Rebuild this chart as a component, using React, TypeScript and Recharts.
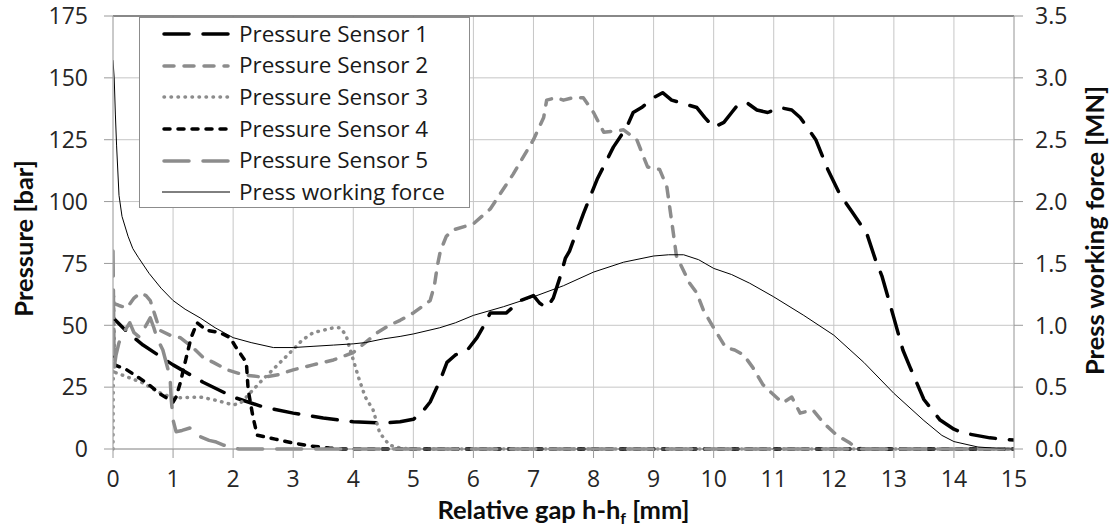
import React from 'react';
import { LineChart, Line, XAxis, YAxis, CartesianGrid, Legend, ReferenceLine } from 'recharts';

const FONT = '"Open Sans", "Liberation Sans", sans-serif';
const TITLE_FONT = 'Lato, "Liberation Sans", sans-serif';

const gapTicks = [0, 1, 2, 3, 4, 5, 6, 7, 8, 9, 10, 11, 12, 13, 14, 15];
const pressureTicks = [0, 25, 50, 75, 100, 125, 150, 175];
const forceTicks = [0, 0.5, 1, 1.5, 2, 2.5, 3, 3.5];

// [relative gap mm, pressure bar]
const sensor1: [number, number][] = [
    [0, 56], [0, 53], [0.25, 47], [0.5, 42], [0.75, 38], [1.0, 34], [1.5, 27], [2.0, 21], [2.5, 17],
    [3.0, 14.5], [3.5, 12.5], [4.0, 11], [4.5, 10.5], [4.78, 11], [5.0, 12], [5.15, 15], [5.28, 19],
    [5.45, 28], [5.56, 35], [5.7, 38], [5.9, 40], [6.06, 45], [6.2, 51], [6.28, 55], [6.55, 55],
    [6.78, 60], [7.0, 62], [7.1, 59], [7.22, 57], [7.33, 61], [7.45, 70], [7.53, 77], [7.6, 80],
    [7.83, 95], [8.06, 109], [8.33, 122], [8.55, 130], [8.66, 136], [8.8, 138], [9.0, 142],
    [9.15, 144], [9.3, 141], [9.44, 140], [9.72, 138], [9.85, 134], [10.0, 130], [10.17, 132],
    [10.3, 136], [10.4, 139], [10.55, 140], [10.72, 137], [10.9, 136], [11.1, 138], [11.3, 137],
    [11.44, 134], [11.7, 125], [11.9, 113], [12.1, 103], [12.3, 96], [12.55, 87], [12.7, 76],
    [12.8, 70], [13.0, 53], [13.15, 40], [13.27, 33], [13.5, 20], [13.77, 11.7], [14.0, 8],
    [14.15, 6.5], [14.6, 4.5], [15, 3.6],
];

const sensor2: [number, number][] = [
    [0, 59], [0.1, 58], [0.23, 57], [0.35, 61], [0.45, 63], [0.55, 62], [0.62, 60], [0.7, 54],
    [0.78, 48], [0.95, 46], [1.12, 45], [1.33, 41], [1.5, 37], [1.67, 35], [1.9, 32], [2.17, 30],
    [2.5, 29], [2.75, 30], [3.0, 32], [3.33, 34], [3.67, 36], [4.0, 39], [4.2, 43], [4.4, 47],
    [4.6, 50], [4.78, 52], [5.0, 55], [5.28, 60], [5.35, 66], [5.4, 74], [5.45, 80], [5.55, 86],
    [5.66, 88.5], [6.0, 91], [6.28, 97], [6.66, 111], [7.0, 125], [7.17, 134], [7.22, 141],
    [7.38, 142], [7.5, 141], [7.66, 142], [7.83, 142], [8.0, 136], [8.17, 128], [8.5, 129],
    [8.72, 125], [8.9, 114], [9.1, 113], [9.22, 106], [9.33, 87], [9.38, 78], [9.44, 75],
    [9.6, 67], [9.72, 63], [9.83, 56], [10.0, 49], [10.2, 41], [10.35, 40], [10.5, 38],
    [10.65, 33], [10.82, 26], [10.95, 23], [11.15, 18.6], [11.3, 21], [11.44, 14.5],
    [11.65, 15.8], [11.83, 10.5], [12.05, 5.6], [12.27, 2.4], [12.38, 0.4], [12.5, 0], [15, 0],
];

const sensor3: [number, number][] = [
    [0, 0], [0.01, 62], [0.03, 31], [0.25, 29], [0.5, 26.7], [0.75, 23], [1.0, 20.6], [1.45, 21],
    [1.75, 19.5], [2.0, 17.8], [2.12, 18.5], [2.22, 21], [2.45, 27], [2.7, 33], [2.95, 39],
    [3.15, 44], [3.33, 47], [3.5, 48], [3.67, 49], [3.78, 49], [3.88, 46], [3.95, 40], [4.1, 28],
    [4.2, 21], [4.33, 15.8], [4.44, 6.5], [4.6, 1.6], [4.78, 0.4], [5.0, 0], [15, 0],
];

const sensor4: [number, number][] = [
    [0, 40], [0.03, 34], [0.23, 32], [0.56, 26.7], [0.8, 22], [1.0, 19], [1.05, 21], [1.12, 26.7],
    [1.22, 37], [1.3, 45], [1.4, 51], [1.56, 48], [1.78, 47], [1.95, 45], [2.05, 41], [2.22, 35],
    [2.25, 24], [2.33, 13], [2.4, 5.6], [2.7, 4], [3.0, 2.4], [3.3, 1.2], [3.6, 0.4], [3.8, 0],
    [15, 0],
];

const sensor5: [number, number][] = [
    [0, 80], [0.02, 33], [0.05, 38], [0.1, 43], [0.2, 48], [0.28, 51], [0.35, 47], [0.45, 45],
    [0.55, 50], [0.62, 53], [0.68, 49], [0.73, 45], [0.83, 40], [0.95, 29], [0.97, 20], [1.0, 11.7],
    [1.05, 7], [1.15, 7.5], [1.28, 8.5], [1.35, 7], [1.45, 5], [1.6, 3.5], [1.72, 2.8], [1.85, 1.5],
    [2.0, 0.4], [2.1, 0], [15, 0],
];

// [relative gap mm, force MN]
const pressForce: [number, number][] = [
    [0, 3.14], [0.02, 3.0], [0.04, 2.7], [0.06, 2.45], [0.1, 2.05], [0.15, 1.88], [0.25, 1.72],
    [0.33, 1.62], [0.42, 1.55], [0.6, 1.42], [0.8, 1.3], [1.0, 1.2], [1.2, 1.13], [1.45, 1.06],
    [1.7, 0.98], [2.0, 0.9], [2.3, 0.86], [2.67, 0.82], [3.0, 0.82], [3.33, 0.83], [3.67, 0.84],
    [4.0, 0.85], [4.2, 0.86], [4.5, 0.89], [4.78, 0.91], [5.0, 0.93], [5.44, 0.98], [5.7, 1.02],
    [6.0, 1.08], [6.5, 1.15], [7.0, 1.23], [7.5, 1.32], [8.0, 1.43], [8.5, 1.51], [9.0, 1.56],
    [9.25, 1.57], [9.5, 1.57], [9.75, 1.53], [10.0, 1.46], [10.3, 1.41], [10.6, 1.34], [11.0, 1.23],
    [11.5, 1.08], [12.0, 0.92], [12.5, 0.7], [13.0, 0.45], [13.5, 0.23], [13.8, 0.11], [14.0, 0.06],
    [14.4, 0.016], [14.8, 0.003], [15, 0],
];

const GRAY = '#8c8c8c';

const series = [
    { key: 's1', name: 'Pressure Sensor 1', data: sensor1, color: '#000', width: 3.5, dash: '25 14', axis: 'left' },
    { key: 's2', name: 'Pressure Sensor 2', data: sensor2, color: GRAY, width: 3.5, dash: '10 10', axis: 'left' },
    { key: 's3', name: 'Pressure Sensor 3', data: sensor3, color: GRAY, width: 3.5, dash: '0.5 6.5', axis: 'left' },
    { key: 's4', name: 'Pressure Sensor 4', data: sensor4, color: '#000', width: 3.5, dash: '6 8', axis: 'left' },
    { key: 's5', name: 'Pressure Sensor 5', data: sensor5, color: GRAY, width: 3.5, dash: '25 14', axis: 'left' },
    { key: 'force', name: 'Press working force', data: pressForce, color: '#000', width: 1, dash: undefined, axis: 'right' },
];

const toPoints = (pts: [number, number][]) => pts.map(([x, y]) => ({ x, y }));

const renderLegend = () => (
    <div style={{
        width: 331, height: 191, border: '1px solid #8c8c8c', background: '#fff',
        boxSizing: 'border-box', fontFamily: FONT, fontSize: 22.5, color: '#1a1a1a',
    }}>
        {series.map(s => (
            <div key={s.key} style={{ height: 31.7, display: 'flex', alignItems: 'center' }}>
                <svg width={68} height={10} style={{ marginLeft: 22, marginRight: 9, flex: 'none' }}>
                    <line x1={s.width > 2 ? 2 : 0} y1={5} x2={s.width > 2 ? 66 : 68} y2={5}
                        stroke={s.color} strokeWidth={s.width} strokeDasharray={s.dash} strokeLinecap="round" />
                </svg>
                <span style={{ whiteSpace: 'nowrap', lineHeight: 1 }}>{s.name}</span>
            </div>
        ))}
    </div>
);

const TICK_SIZE = 23;
const titleStyle = { fill: '#0d0d0d', fontSize: 25.5, fontWeight: 700, fontFamily: TITLE_FONT };

// tick text drawn at the position recharts hands over
const makeTick = (anchor: 'start' | 'middle' | 'end', dy: string, fmt?: (v: number) => string) =>
    (props: any) => {
        const v = props.payload.value;
        return (
            <text x={props.x} y={props.y} dy={dy} textAnchor={anchor} fill="#262626"
                fontSize={TICK_SIZE} fontFamily={FONT}>
                {fmt ? fmt(v) : String(v)}
            </text>
        );
    };

const App: React.FC = () => (
    <div style={{ position: 'absolute', left: 0, top: 0, background: '#fff' }}>
        <LineChart width={1115} height={528} margin={{ top: 16, right: 0, bottom: 0, left: 0 }}>
            <CartesianGrid yAxisId="left" stroke="#c6c6c6" strokeWidth={1} />
            <XAxis
                dataKey="x" type="number" domain={[0, 15]} ticks={gapTicks} interval={0}
                allowDataOverflow height={79} tick={makeTick('middle', '0.72em')} tickSize={9} tickMargin={12}
                axisLine={{ stroke: '#9a9a9a' }} tickLine={{ stroke: '#9a9a9a' }}
                label={{
                    content: (p: any) => {
                        const vb = p.viewBox;
                        return (
                            <text x={vb.x + vb.width / 2} y={vb.y + 70} textAnchor="middle" {...titleStyle}>
                                Relative gap h-h<tspan fontSize={16} dy={5}>f</tspan><tspan dy={-5}> [mm]</tspan>
                            </text>
                        );
                    },
                }}
            />
            <YAxis
                yAxisId="left" domain={[0, 175]} ticks={pressureTicks} interval={0} width={113}
                tick={makeTick('end', '0.36em')} tickSize={9} tickMargin={16}
                axisLine={{ stroke: '#b0b0b0' }} tickLine={{ stroke: '#9a9a9a' }}
                label={{
                    content: (p: any) => {
                        const vb = p.viewBox;
                        const cx = 33;
                        const cy = vb.y + vb.height / 2 + 6;
                        return (
                            <text x={cx} y={cy} textAnchor="middle" transform={`rotate(-90, ${cx}, ${cy})`} {...titleStyle}>
                                Pressure [bar]
                            </text>
                        );
                    },
                }}
            />
            <YAxis
                yAxisId="right" orientation="right" domain={[0, 3.5]} ticks={forceTicks} interval={0}
                width={101} tick={makeTick('start', '0.36em', (v: number) => v.toFixed(1))} tickSize={9} tickMargin={12}
                axisLine={{ stroke: '#b0b0b0' }} tickLine={{ stroke: '#9a9a9a' }}
                label={{
                    content: (p: any) => {
                        const vb = p.viewBox;
                        const cx = vb.x + 90;
                        const cy = vb.y + vb.height / 2 - 2;
                        return (
                            <text x={cx} y={cy} textAnchor="middle" transform={`rotate(-90, ${cx}, ${cy})`} {...titleStyle}>
                                Press working force [MN]
                            </text>
                        );
                    },
                }}
            />
            <ReferenceLine yAxisId="left" y={175} stroke="#6a6a6a" strokeWidth={1.5} />
            {series.map(s => (
                <Line
                    key={s.key}
                    yAxisId={s.axis}
                    data={toPoints(s.data)}
                    dataKey="y"
                    name={s.name}
                    type="linear"
                    stroke={s.color}
                    strokeWidth={s.width}
                    strokeDasharray={s.dash}
                    strokeLinecap="round"
                    strokeLinejoin="round"
                    dot={false}
                    activeDot={false}
                    isAnimationActive={false}
                />
            ))}
            <Legend
                layout="vertical" align="center" verticalAlign="middle" content={renderLegend}
                wrapperStyle={{ position: 'absolute', left: 139, top: 17, width: 331, height: 191 }}
            />
        </LineChart>
    </div>
);

export default App;
